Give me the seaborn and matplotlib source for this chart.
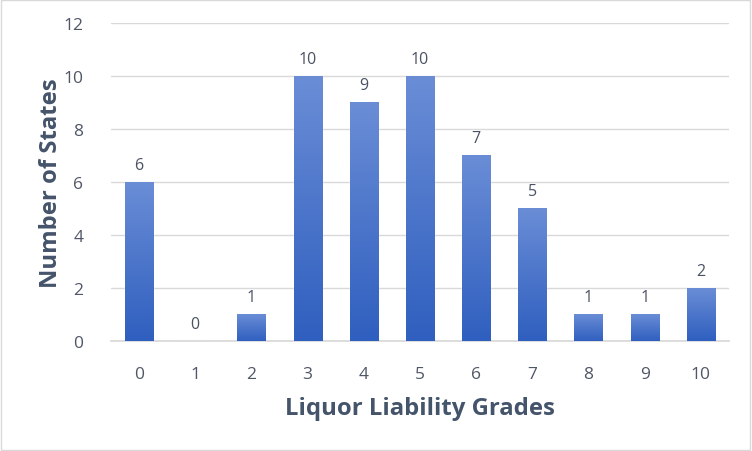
import numpy as np
import pandas as pd
import matplotlib
matplotlib.use("Agg")
import matplotlib.pyplot as plt
from matplotlib.colors import LinearSegmentedColormap
import seaborn as sns

grades = ["0", "1", "2", "3", "4", "5", "6", "7", "8", "9", "10"]
states = [6, 0, 1, 10, 9, 10, 7, 5, 1, 1, 2]

sns.set_theme(style="white")
plt.rcParams["font.family"] = ["Open Sans", "DejaVu Sans"]

df = pd.DataFrame({"grade": grades, "states": states})

fig = plt.figure(figsize=(7.52, 4.52), dpi=100)
ax = fig.add_axes([0.1476, 0.2434, 0.8218, 0.7035])
sns.barplot(data=df, x="grade", y="states", color="#4472c4", width=0.5, ax=ax, zorder=2)

# gradient fill on each bar
cmap = LinearSegmentedColormap.from_list("g", ["#2f5fbf", "#6a8dd6"])
grad = np.linspace(0, 1, 256).reshape(-1, 1)
for p in ax.patches:
    x0, y0 = p.get_x(), p.get_y()
    w, h = p.get_width(), p.get_height()
    if h <= 0:
        continue
    im = ax.imshow(grad, cmap=cmap, extent=[x0, x0 + w, y0, y0 + h],
                   origin="lower", aspect="auto", zorder=3)
    im.set_clip_path(p)

for i, v in enumerate(states):
    ax.text(i, v + 0.35, str(v), ha="center", va="bottom", fontsize=11.5, color="#4a5263", zorder=4)

ax.set_xlim(-0.5, 10.5)
ax.set_ylim(0, 12)
ax.set_yticks(range(0, 13, 2))
ax.yaxis.grid(True, color="#d9d9d9", linewidth=1, zorder=0)
ax.set_axisbelow(True)
for s in ["top", "right", "left"]:
    ax.spines[s].set_visible(False)
ax.spines["bottom"].set_color("#d9d9d9")
ax.tick_params(axis="both", length=0, labelsize=12.5, labelcolor="#4f5666")
ax.tick_params(axis="x", pad=18)
ax.tick_params(axis="y", pad=20)
ax.set_xlabel("Liquor Liability Grades", fontsize=17.2, fontweight="bold", color="#44546a", labelpad=10)
ax.set_ylabel("Number of States", fontsize=17.2, fontweight="bold", color="#44546a", labelpad=0)

fig.patches.append(plt.Rectangle((0.001, 0.002), 0.997, 0.996, transform=fig.transFigure,
                                 fill=False, edgecolor="#d9d9d9", linewidth=1))

fig.savefig("out.png", dpi=100)
